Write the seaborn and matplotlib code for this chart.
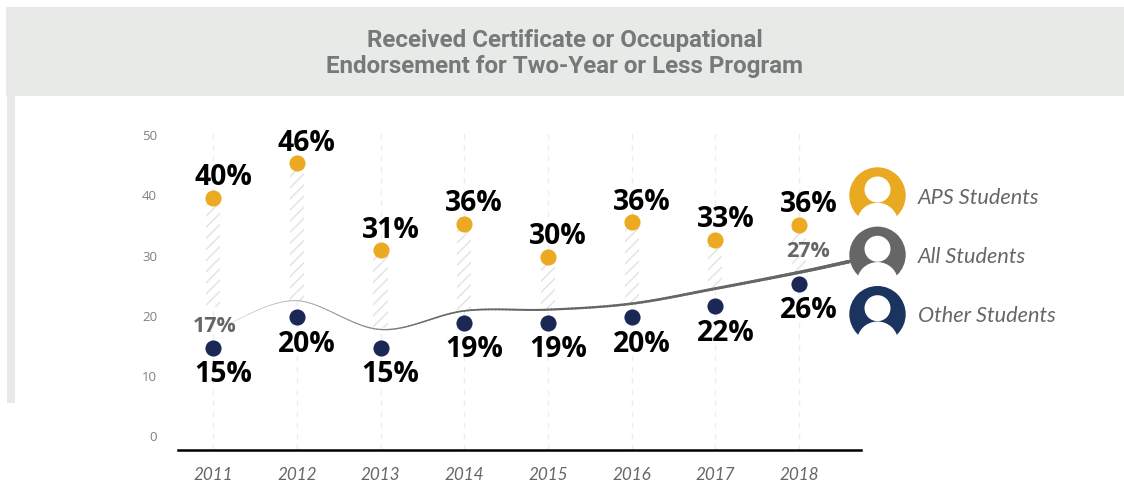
import numpy as np
import pandas as pd
import matplotlib
matplotlib.use("Agg")
import matplotlib.pyplot as plt
from matplotlib.colors import LinearSegmentedColormap
from matplotlib.patches import Circle, Rectangle
import seaborn as sns

# ── data ────────────────────────────────────────────────────
years = [2011, 2012, 2013, 2014, 2015, 2016, 2017, 2018]
aps_values = [39.6, 45.3, 30.9, 35.3, 29.8, 35.5, 32.6, 35.1]
other_values = [14.7, 19.7, 14.7, 18.8, 18.8, 19.7, 21.6, 25.3]
aps_labels = ["40%", "46%", "31%", "36%", "30%", "36%", "33%", "36%"]
other_labels = ["15%", "20%", "15%", "19%", "19%", "20%", "22%", "26%"]

# all students curve, runs on into the legend icon
all_x = [2011.2, 2012, 2013, 2014, 2015, 2016, 2017, 2018, 2018.6]
all_values = [18.8, 22.5, 17.7, 20.8, 21.0, 22.0, 24.5, 27.2, 29.0]
hatch_bottom = [21.5, 22.5, 18.0, 20.8, 21.0, 22.0, 24.5, 27.2]

y_ticks = [0, 10, 20, 30, 40, 50]
legend_names = ["APS Students", "All Students", "Other Students"]
legend_colors = ["#E9A920", "#666666", "#1B335F"]
title_lines = ["Received Certificate or Occupational",
               "Endorsement for Two-Year or Less Program"]

W, H = 1124, 487
ORANGE = "#EBAA21"
NAVY = "#1B2855"
GREY = "#666666"

sns.set_style("white")
plt.rcParams["font.family"] = ["Open Sans", "DejaVu Sans"]
plt.rcParams["hatch.linewidth"] = 1.0

fig = plt.figure(figsize=(W / 100, H / 100), dpi=100)

# ── background overlay, pixel coordinates ───────────────────
bg = fig.add_axes([0, 0, 1, 1], zorder=0)
bg.set_xlim(0, W); bg.set_ylim(H, 0); bg.axis("off")
bg.add_patch(Rectangle((6, 7), W - 6, 89, color="#E8EAE7", lw=0))
bg.add_patch(Rectangle((7, 96), 8, 307, color="#E8EAE7", lw=0))
for line, ty in zip(title_lines, [41, 66]):
    bg.text(565, ty, line, ha="center", va="center", fontsize=17.4,
            fontweight="bold", color="#77787A", family="Roboto")

# ── main chart ──────────────────────────────────────────────
left, right, top, bottom = 178, 861, 125, 450
ax = fig.add_axes([left / W, 1 - bottom / H, (right - left) / W, (bottom - top) / H],
                  zorder=1)
ax.patch.set_alpha(0)
ax.set_xlim(2010.58, 2018.74)
ax.set_ylim(-2.33, 51.7)

ax.vlines(years, -2.33, 50.5, color="#EDEDED", lw=1, linestyles=(0, (4, 4)), zorder=1)
tops = np.array(aps_values)
ax.bar(years, tops - np.array(hatch_bottom), bottom=hatch_bottom, width=0.17,
       facecolor="white", edgecolor="#E2E2E2", hatch="///", linewidth=0, zorder=2)

# tapered curve: catmull-rom through the read values, one short piece per level
px = np.array([all_x[0]] + all_x + [all_x[-1]])
py = np.array([all_values[0]] + all_values + [all_values[-1]])
t = np.linspace(0, 1, 25)[:-1]
cx, cy = [], []
for i in range(1, len(px) - 2):
    for name, p, out in (("x", px, cx), ("y", py, cy)):
        out.extend(0.5 * (2 * p[i] + (p[i + 1] - p[i - 1]) * t
                          + (2 * p[i - 1] - 5 * p[i] + 4 * p[i + 1] - p[i + 2]) * t ** 2
                          + (3 * p[i] - p[i - 1] - 3 * p[i + 1] + p[i + 2]) * t ** 3))
cx.append(all_x[-1]); cy.append(all_values[-1])
pieces = []
for i in range(len(cx) - 1):
    pieces.append({"x": cx[i], "y": cy[i], "seg": i})
    pieces.append({"x": cx[i + 1], "y": cy[i + 1], "seg": i})
curve = pd.DataFrame(pieces)
fade = LinearSegmentedColormap.from_list("fade", ["#D8D8D8", "#666666", "#666666", "#666666"])
sns.lineplot(data=curve, x="x", y="y", hue="seg", size="seg", palette=fade,
             sizes=(0.4, 2.6), estimator=None, sort=False, legend=False, ax=ax, zorder=3)

sns.scatterplot(x=years, y=aps_values, color=ORANGE, s=135, linewidth=0, ax=ax,
                zorder=4, clip_on=False)
sns.scatterplot(x=years, y=other_values, color=NAVY, s=135, linewidth=0, ax=ax,
                zorder=4, clip_on=False)

label_style = dict(textcoords="offset pixels", ha="center", va="center",
                   fontsize=20.3, fontweight="bold", color="black", zorder=5,
                   annotation_clip=False)
for yr, val, lab in zip(years, aps_values, aps_labels):
    ax.annotate(lab, (yr, val), xytext=(10, 20), **label_style)
for yr, val, lab in zip(years, other_values, other_labels):
    ax.annotate(lab, (yr, val), xytext=(10, -27), **label_style)
ax.text(2011.02, 18.2, "17%", ha="center", va="center", fontsize=15.5,
        fontweight="bold", color=GREY, zorder=5)
ax.text(2018.11, 30.6, "27%", ha="center", va="center", fontsize=15.5,
        fontweight="bold", color=GREY, zorder=5)

sns.despine(ax=ax, left=True, top=True, right=True)
ax.spines["bottom"].set_color("black")
ax.spines["bottom"].set_linewidth(1.8)
ax.set_yticks(y_ticks)
ax.set_yticklabels([str(v) for v in y_ticks], fontsize=9.5, color="#808080")
ax.set_xticks(years)
ax.set_xticklabels([str(v) for v in years], fontsize=12.3, style="italic",
                   color=GREY, family="Lato")
ax.tick_params(axis="y", length=0, pad=15)
ax.tick_params(axis="x", length=0, pad=12)
ax.set_xlabel(""); ax.set_ylabel("")

# ── legend icons on top of the curve end ────────────────────
fg = fig.add_axes([0, 0, 1, 1], zorder=2)
fg.set_xlim(0, W); fg.set_ylim(H, 0); fg.axis("off")
for name, col, cy0 in zip(legend_names, legend_colors, [195.5, 254.8, 314.2]):
    fg.add_patch(Circle((877.5, cy0), 28.2, color=col, lw=0))
    fg.add_patch(Circle((877.5, cy0 - 6), 13, color="white", lw=0))
    fg.add_patch(Circle((877.5, cy0 + 28), 20.7, color="white", lw=0))
    fg.text(918, cy0 + 2, name, ha="left", va="center", fontsize=15.6, style="italic",
            color="#666666", family="Lato")

plt.savefig("out.png", dpi=100)
plt.close()
